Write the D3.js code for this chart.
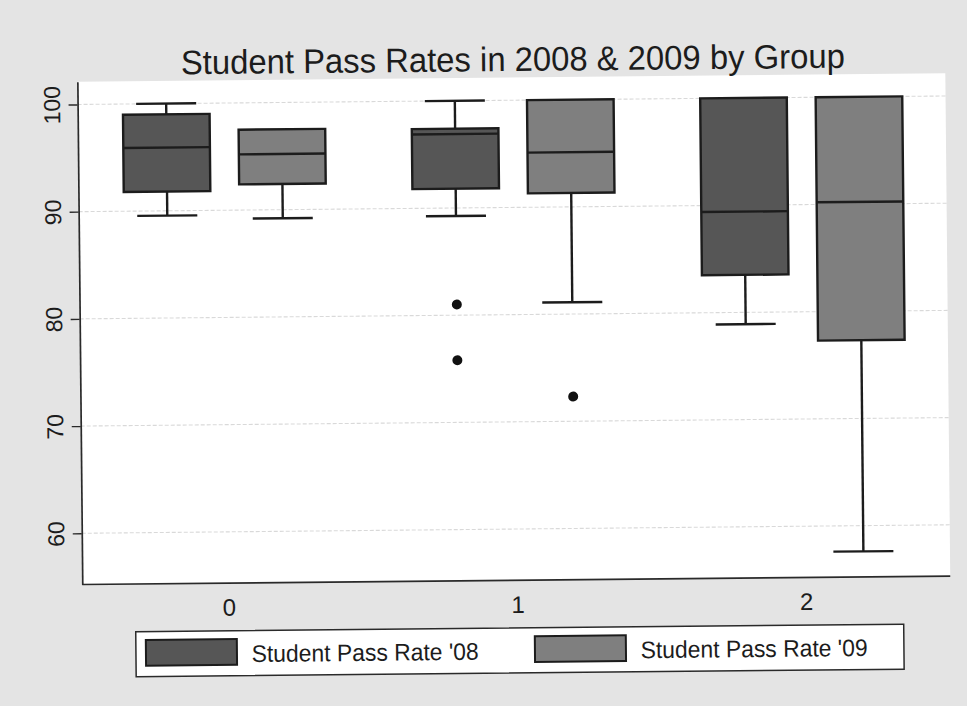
<!DOCTYPE html>
<html>
<head>
<meta charset="utf-8">
<script src="https://cdn.jsdelivr.net/npm/d3@7"></script>
<style>
  html, body { margin: 0; padding: 0; background: #e4e4e4; }
  svg { display: block; }
</style>
</head>
<body>
<script>
// ---- Data ----
const groups = ["0", "1", "2"];
const seriesNames = ["Student Pass Rate '08", "Student Pass Rate '09"];

const lower08  = [89.55, 89.25, 78.9];
const q1_08    = [91.8, 91.8, 83.5];
const median08 = [95.9, 96.9, 89.4];
const q3_08    = [99.0, 97.4, 100];
const upper08  = [100, 100, 100];
const outliers08 = [[], [81.0, 75.8], []];

const lower09  = [89.2, 81.1, 57.6];
const q1_09    = [92.4, 91.3, 77.3];
const median09 = [95.2, 95.1, 90.2];
const q3_09    = [97.5, 100, 100];
const upper09  = [97.5, 100, 100];
const outliers09 = [[], [72.3], []];

const yTicks = [60, 70, 80, 90, 100];
const titleText = "Student Pass Rates in 2008 & 2009 by Group";

// ---- Build stats table ----
const seriesStats = [
  {lower: lower08, q1: q1_08, med: median08, q3: q3_08, upper: upper08, out: outliers08},
  {lower: lower09, q1: q1_09, med: median09, q3: q3_09, upper: upper09, out: outliers09}
];
const boxes = [];
groups.forEach((gname, i) => {
  seriesStats.forEach((s, k) => {
    boxes.push({g: i, s: k, lower: s.lower[i], q1: s.q1[i], med: s.med[i],
                q3: s.q3[i], upper: s.upper[i], out: s.out[i]});
  });
});

// ---- Layout ----
const W = 967, H = 706;
const fontFam = "'Liberation Sans', Arial, Helvetica, sans-serif";
const fills = ["#565656", "#7f7f7f"];
const ink = "#1c1c1c";
const plotL = 80, plotR = 948, plotT = 77.5, plotB = 580.3;

const svg = d3.select("body").append("svg")
  .attr("width", W).attr("height", H);

svg.append("rect").attr("width", W).attr("height", H).attr("fill", "#e4e4e4");

const g = svg.append("g").attr("transform", "rotate(-0.56,513,350)");

const x = d3.scaleLinear().domain([-0.5, 2.5]).range([82, 948]);
const y = d3.scaleLinear().domain([55.22, 102.12]).range([plotB, plotT]);

// plot region
g.append("rect")
  .attr("x", plotL).attr("y", plotT)
  .attr("width", plotR - plotL).attr("height", plotB - plotT)
  .attr("fill", "#ffffff");

// gridlines
g.append("g").selectAll("line").data(yTicks).join("line")
  .attr("x1", plotL).attr("x2", plotR)
  .attr("y1", d => y(d)).attr("y2", d => y(d))
  .attr("stroke", "#d9d9d9").attr("stroke-width", 1.1)
  .attr("stroke-dasharray", "4,2");

// title
g.append("text")
  .attr("x", 515.7).attr("y", 71)
  .attr("text-anchor", "middle")
  .attr("font-family", fontFam).attr("font-size", 34)
  .attr("textLength", 664).attr("lengthAdjust", "spacingAndGlyphs")
  .attr("fill", ink)
  .text(titleText);

// y axis
const yAxis = g.append("g")
  .attr("transform", `translate(${plotL},0)`)
  .call(d3.axisLeft(y).tickValues(yTicks).tickSize(9).tickSizeOuter(0).tickFormat(d3.format("d")));
yAxis.select(".domain").attr("stroke", "#2a2a2a").attr("stroke-width", 1.7);
yAxis.selectAll(".tick line").attr("stroke", "#2a2a2a").attr("stroke-width", 1.4);
yAxis.selectAll(".tick text")
  .attr("transform", "rotate(-90)")
  .attr("x", 0).attr("y", -17.6).attr("dy", null)
  .attr("text-anchor", "middle")
  .attr("font-family", fontFam).attr("font-size", 23)
  .attr("fill", ink);

// x axis (line + category labels, no ticks)
const xAxis = g.append("g")
  .attr("transform", `translate(0,${plotB})`)
  .call(d3.axisBottom(x).tickValues(d3.range(groups.length)).tickSize(0).tickSizeOuter(0)
        .tickFormat(i => groups[i]));
xAxis.select(".domain").attr("stroke", "#2a2a2a").attr("stroke-width", 1.7)
  .attr("d", `M${plotL},0H${plotR}`);
xAxis.selectAll(".tick text")
  .attr("y", 32.6).attr("dy", null)
  .attr("font-family", fontFam).attr("font-size", 24)
  .attr("fill", ink);

// boxes
const off = [-0.2, 0.2];
const halfBox = 0.15, halfCap = 0.104;
const bg = g.append("g");
const bx = bg.selectAll("g.box").data(boxes).join("g").attr("class", "box");

// whiskers
bx.append("line")
  .attr("x1", d => x(d.g + off[d.s])).attr("x2", d => x(d.g + off[d.s]))
  .attr("y1", d => y(d.q1)).attr("y2", d => y(d.lower))
  .attr("stroke", ink).attr("stroke-width", 2.4);
bx.append("line")
  .attr("x1", d => x(d.g + off[d.s] - halfCap)).attr("x2", d => x(d.g + off[d.s] + halfCap))
  .attr("y1", d => y(d.lower)).attr("y2", d => y(d.lower))
  .attr("stroke", ink).attr("stroke-width", 2.4);
bx.filter(d => d.upper > d.q3).append("line")
  .attr("x1", d => x(d.g + off[d.s])).attr("x2", d => x(d.g + off[d.s]))
  .attr("y1", d => y(d.q3)).attr("y2", d => y(d.upper))
  .attr("stroke", ink).attr("stroke-width", 2.4);
bx.filter(d => d.upper > d.q3).append("line")
  .attr("x1", d => x(d.g + off[d.s] - halfCap)).attr("x2", d => x(d.g + off[d.s] + halfCap))
  .attr("y1", d => y(d.upper)).attr("y2", d => y(d.upper))
  .attr("stroke", ink).attr("stroke-width", 2.4);

// box body
bx.append("rect")
  .attr("x", d => x(d.g + off[d.s] - halfBox))
  .attr("width", d => x(d.g + off[d.s] + halfBox) - x(d.g + off[d.s] - halfBox))
  .attr("y", d => y(d.q3))
  .attr("height", d => y(d.q1) - y(d.q3))
  .attr("fill", d => fills[d.s])
  .attr("stroke", ink).attr("stroke-width", 2.4);

// median
bx.append("line")
  .attr("x1", d => x(d.g + off[d.s] - halfBox)).attr("x2", d => x(d.g + off[d.s] + halfBox))
  .attr("y1", d => y(d.med)).attr("y2", d => y(d.med))
  .attr("stroke", ink).attr("stroke-width", 2.4);

// outliers
bx.selectAll("circle").data(d => d.out.map(v => ({v, cx: x(d.g + off[d.s])}))).join("circle")
  .attr("cx", d => d.cx).attr("cy", d => y(d.v)).attr("r", 5)
  .attr("fill", "#111");

// legend
const leg = g.append("g");
leg.append("rect")
  .attr("x", 133).attr("y", 628).attr("width", 768).attr("height", 45)
  .attr("fill", "#ffffff").attr("stroke", "#2a2a2a").attr("stroke-width", 1.5);
const legX = [143, 532];
const li = leg.selectAll("g.item").data(seriesNames).join("g").attr("class", "item")
  .attr("transform", (d, i) => `translate(${legX[i]},636.4)`);
li.append("rect")
  .attr("width", 91).attr("height", 25.7)
  .attr("fill", (d, i) => fills[i])
  .attr("stroke", ink).attr("stroke-width", 2);
li.append("text")
  .attr("x", 105.7).attr("y", 23)
  .attr("font-family", fontFam).attr("font-size", 24)
  .attr("textLength", 227).attr("lengthAdjust", "spacingAndGlyphs")
  .attr("fill", ink)
  .text(d => d);
</script>
</body>
</html>
